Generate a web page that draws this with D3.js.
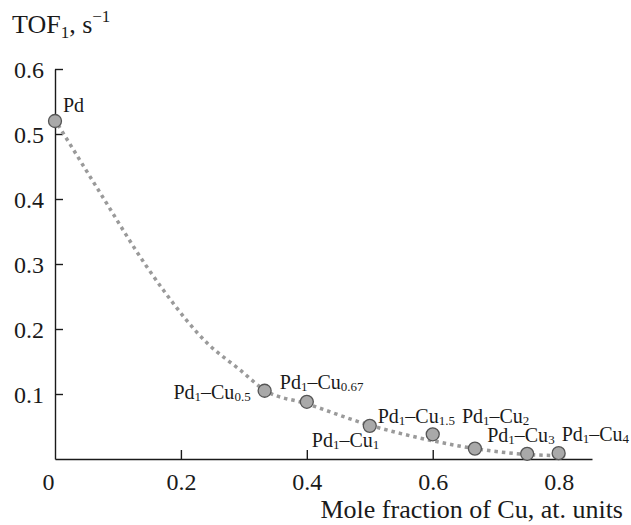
<!DOCTYPE html>
<html>
<head>
<meta charset="utf-8">
<script src="https://cdn.jsdelivr.net/npm/d3@7"></script>
<style>
  body { margin: 0; background: #fff; }
</style>
</head>
<body>
<div class="canva"></div>
<script>
// sample points (mole fraction of Cu, TOF1)
const sampleNames = ["Pd", "0.5", "0.67", "1", "1.5", "2", "3", "4"];
const moleFraction = [0, 0.333, 0.4, 0.5, 0.6, 0.667, 0.75, 0.8];
const tofValues = [0.52, 0.105, 0.088, 0.051, 0.038, 0.016, 0.008, 0.009];

// dotted trend line
const trendX = [0.005, 0.072, 0.145, 0.172, 0.242, 0.294, 0.333, 0.4, 0.5, 0.6, 0.667, 0.75, 0.815];
const trendY = [0.514, 0.409, 0.297, 0.26, 0.178, 0.137, 0.106, 0.085, 0.052, 0.028, 0.016, 0.007, 0.005];

const xTicks = [0, 0.2, 0.4, 0.6, 0.8];
const yTicks = [0.1, 0.2, 0.3, 0.4, 0.5, 0.6];

// label placement next to each point (px)
const labelOffsets = [
  {dx: 8, dy: -9, anchor: "start"},
  {dx: -14, dy: 8, anchor: "end"},
  {dx: -27, dy: -13, anchor: "start"},
  {dx: -58, dy: 21, anchor: "start"},
  {dx: -55, dy: -11, anchor: "start"},
  {dx: -13, dy: -26, anchor: "start"},
  {dx: -40, dy: -12, anchor: "start"},
  {dx: 3, dy: -12, anchor: "start"}
];

const serif = "Liberation Serif";

const svg = d3.select(".canva").append("svg")
  .attr("width", 631)
  .attr("height", 525)
  .attr("font-family", serif);

const x = d3.scaleLinear().domain([0, 0.853]).range([55, 592]);
const y = d3.scaleLinear().domain([0, 0.6]).range([459, 69]);

//x axis
const xAxis = svg.append("g")
  .attr("transform", `translate(0, ${y(0)})`)
  .call(d3.axisBottom(x)
    .tickValues(xTicks)
    .tickSize(-9)
    .tickSizeOuter(0)
    .tickFormat(d => d === 0 ? "0" : d3.format(".1f")(d)))
  .attr("font-family", serif)
  .attr("font-size", 24);

xAxis.select(".domain").attr("stroke", "#1a1a1a").attr("stroke-width", 1.4);
xAxis.selectAll(".tick line").attr("stroke", "#1a1a1a").attr("stroke-width", 1.4)
  .filter(d => d === 0).remove();
xAxis.selectAll(".tick text")
  .attr("y", 31).attr("dy", null)
  .attr("x", d => d === 0 ? -7 : 0)
  .attr("fill", "#1a1a1a");

//y axis
const yAxis = svg.append("g")
  .attr("transform", `translate(${x(0)}, 0)`)
  .call(d3.axisLeft(y)
    .tickValues(yTicks)
    .tickSize(-8)
    .tickSizeOuter(0)
    .tickFormat(d3.format(".1f")))
  .attr("font-family", serif)
  .attr("font-size", 24);

yAxis.select(".domain").attr("stroke", "#1a1a1a").attr("stroke-width", 1.4);
yAxis.selectAll(".tick line").attr("stroke", "#1a1a1a").attr("stroke-width", 1.4);
yAxis.selectAll(".tick text")
  .attr("x", -11).attr("dy", "0.34em")
  .attr("fill", "#1a1a1a");

// axis titles
const yTitle = svg.append("text")
  .attr("x", 12).attr("y", 33)
  .attr("font-size", 26)
  .attr("fill", "#1a1a1a");
yTitle.append("tspan").text("TOF");
yTitle.append("tspan").attr("font-size", 17).attr("dy", 5).text("1");
yTitle.append("tspan").attr("dy", -5).text(", s");
yTitle.append("tspan").attr("font-size", 17).attr("dy", -11).text("\u22121");

svg.append("text")
  .attr("x", 623).attr("y", 518)
  .attr("text-anchor", "end")
  .attr("font-size", 26)
  .attr("fill", "#1a1a1a")
  .text("Mole fraction of Cu, at. units");

// trend line
const trend = trendX.map((d, i) => [d, trendY[i]]);
svg.append("path")
  .datum(trend)
  .attr("fill", "none")
  .attr("stroke", "#9a9a9a")
  .attr("stroke-width", 3.5)
  .attr("stroke-dasharray", "3.5,4")
  .attr("d", d3.line()
    .x(d => x(d[0]))
    .y(d => y(d[1]))
    .curve(d3.curveMonotoneX));

// points
const points = sampleNames.map((n, i) => ({
  name: n, mx: moleFraction[i], tof: tofValues[i], off: labelOffsets[i]
}));

svg.selectAll("circle.pt")
  .data(points)
  .enter()
  .append("circle")
  .attr("class", "pt")
  .attr("cx", d => x(d.mx))
  .attr("cy", d => y(d.tof))
  .attr("r", 6.5)
  .attr("fill", "#a9a9a9")
  .attr("stroke", "#555")
  .attr("stroke-width", 1.3);

// labels
const labels = svg.selectAll("text.lbl")
  .data(points)
  .enter()
  .append("text")
  .attr("class", "lbl")
  .attr("x", d => x(d.mx) + d.off.dx)
  .attr("y", d => y(d.tof) + d.off.dy)
  .attr("text-anchor", d => d.off.anchor)
  .attr("font-size", 20)
  .attr("fill", "#1a1a1a");

labels.each(function(d) {
  const t = d3.select(this);
  if (d.name === "Pd") {
    t.text("Pd");
    return;
  }
  t.append("tspan").text("Pd");
  t.append("tspan").attr("font-size", 13).attr("dy", 2).text("1");
  t.append("tspan").attr("dy", -2).text("\u2013Cu");
  t.append("tspan").attr("font-size", 13).attr("dy", 2).text(d.name);
});
</script>
</body>
</html>
